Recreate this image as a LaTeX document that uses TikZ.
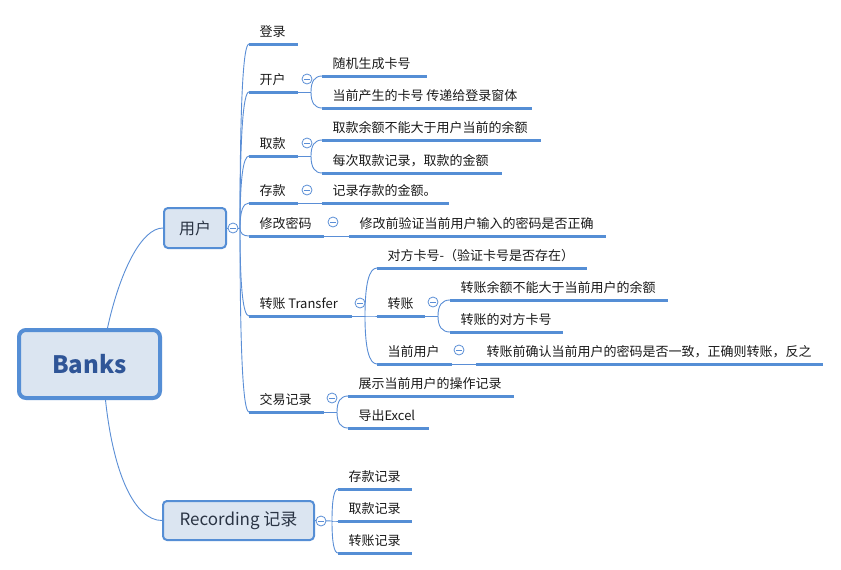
\documentclass[tikz,border=0pt]{standalone}
\usepackage{fontspec}
\setmainfont{Noto Sans CJK SC}
\usetikzlibrary{calc,backgrounds}
\definecolor{lineblue}{HTML}{5A8ED6}
\definecolor{ulblue}{HTML}{558ED5}
\definecolor{boxfill}{HTML}{DBE5F1}
\definecolor{banktext}{HTML}{2F5597}
\definecolor{toptext}{HTML}{2A3444}
\definecolor{leaftext}{HTML}{1A1A1A}
\newcommand\leafbox[2]{\makebox[#1pt][l]{\hspace{10.5pt}#2}}
\begin{document}
\begin{tikzpicture}[x=1pt,y=-1pt,
  conn/.style={draw=lineblue, line width=0.9pt},
  uline/.style={draw=ulblue, line width=3pt},
  leaf/.style={anchor=south west, inner sep=0pt, outer sep=0pt, text height=11pt, text depth=8pt, font=\fontsize{13}{15}\selectfont, text=leaftext},
  collapse/.style={circle, draw=lineblue, line width=0.8pt, fill=white, minimum size=10pt, inner sep=0pt,
    path picture={\draw[lineblue, line width=0.8pt] ([xshift=-2.6pt]path picture bounding box.center) -- ([xshift=2.6pt]path picture bounding box.center);}},
  topic/.style={rectangle, rounded corners=4pt, draw=ulblue, line width=2pt, fill=boxfill, inner sep=0pt, font=\fontsize{16}{18}\selectfont, text=toptext},
  bank/.style={rectangle, rounded corners=7pt, draw=ulblue, line width=4pt, fill=boxfill, inner sep=0pt, minimum width=141pt, minimum height=68pt, font=\bfseries\fontsize{24}{28}\selectfont, text=banktext},
  qbranch/.style={to path={.. controls ($(\tikztostart)!2/3!(\tikztostart|-\tikztotarget)$) and ($(\tikztotarget)!2/3!(\tikztostart|-\tikztotarget)$) .. (\tikztotarget)}}
]
\useasboundingbox (0,0) rectangle (841,570);

% root and main topics
\node[bank] (banks) at (89.5,364) {Banks};
\node[topic, minimum width=62pt, minimum height=40pt] (user) at (195,228) {用户};
\node[topic, minimum width=151pt, minimum height=39pt, font=\fontsize{17}{19}\selectfont] (rec) at (238.5,520.5) {Recording 记录};

% children of 用户
\node[leaf] (dl) at (249,44) {\leafbox{49}{登录}};
\node[leaf] (kh) at (249,92) {\leafbox{49}{开户}};
\node[leaf] (qk) at (249,156) {\leafbox{49}{取款}};
\node[leaf] (ck) at (249,203) {\leafbox{49}{存款}};
\node[leaf] (xg) at (249,236) {\leafbox{75}{修改密码}};
\node[leaf] (zz) at (249,316) {\leafbox{103}{转账 Transfer}};
\node[leaf] (jy) at (249,412) {\leafbox{75}{交易记录}};

% leaves
\node[leaf] (kh1) at (322,76) {\leafbox{105}{随机生成卡号}};
\node[leaf] (kh2) at (322,108) {\leafbox{210}{当前产生的卡号 传递给登录窗体}};
\node[leaf] (qk1) at (322,140) {\leafbox{219}{取款余额不能大于用户当前的余额}};
\node[leaf] (qk2) at (322,173) {\leafbox{180}{每次取款记录，取款的金额}};
\node[leaf] (ck1) at (322,203) {\leafbox{127}{记录存款的金额。}};
\node[leaf] (xg1) at (349,236) {\leafbox{257}{修改前验证当前用户输入的密码是否正确}};
\node[leaf] (zz1) at (377,268) {\leafbox{210}{对方卡号-（验证卡号是否存在）}};
\node[leaf] (zz2) at (377,316) {\leafbox{48}{转账}};
\node[leaf] (zz3) at (377,364) {\leafbox{75}{当前用户}};
\node[leaf] (zz21) at (450,300) {\leafbox{218}{转账余额不能大于当前用户的余额}};
\node[leaf] (zz22) at (450,332) {\leafbox{113}{转账的对方卡号}};
\node[leaf] (zz31) at (476,364) {\leafbox{347}{转账前确认当前用户的密码是否一致，正确则转账，反之}};
\node[leaf] (jy1) at (348,396) {\leafbox{166}{展示当前用户的操作记录}};
\node[leaf] (jy2) at (348,428) {\leafbox{81}{导出Excel}};
\node[leaf] (r1) at (338,489) {\leafbox{74}{存款记录}};
\node[leaf] (r2) at (338,521) {\leafbox{74}{取款记录}};
\node[leaf] (r3) at (338,553) {\leafbox{74}{转账记录}};

% junction points
\coordinate (ju) at (240,228);
\coordinate (jkh) at (311,92);
\coordinate (jqk) at (311,156);
\coordinate (jzz) at (365,316);
\coordinate (jzz2) at (438,316);
\coordinate (jjy) at (337,412);
\coordinate (jrec) at (332,521);

\begin{scope}[on background layer]
  \fill[white] (0,0) rectangle (841,570);
  % root connectors
  \draw[conn] ([xshift=18pt]banks.north) .. controls +(12,-55) and +(-22,0) .. (user.west);
  \draw[conn] ([xshift=16pt]banks.south) .. controls +(8,75) and +(-27,0) .. (rec.west);
  % 用户 branches
  \draw[conn] (user.east) -- (ju);
  \foreach \c in {dl,kh,qk,ck,xg,zz,jy} \draw[conn] (ju) to[qbranch] (\c.south west);
  % sub branches
  \draw[conn] (kh.south east) -- (jkh);
  \foreach \c in {kh1,kh2} \draw[conn] (jkh) to[qbranch] (\c.south west);
  \draw[conn] (qk.south east) -- (jqk);
  \foreach \c in {qk1,qk2} \draw[conn] (jqk) to[qbranch] (\c.south west);
  \draw[conn] (ck.south east) -- (ck1.south west);
  \draw[conn] (xg.south east) -- (xg1.south west);
  \draw[conn] (zz.south east) -- (jzz);
  \foreach \c in {zz1,zz2,zz3} \draw[conn] (jzz) to[qbranch] (\c.south west);
  \draw[conn] (zz2.south east) -- (jzz2);
  \foreach \c in {zz21,zz22} \draw[conn] (jzz2) to[qbranch] (\c.south west);
  \draw[conn] (zz3.south east) -- (zz31.south west);
  \draw[conn] (jy.south east) -- (jjy);
  \foreach \c in {jy1,jy2} \draw[conn] (jjy) to[qbranch] (\c.south west);
  \draw[conn] (rec.east) -- (jrec);
  \foreach \c in {r1,r2,r3} \draw[conn] (jrec) to[qbranch] (\c.south west);
\end{scope}

% underlines
\foreach \n in {dl,kh,qk,ck,xg,zz,jy,kh1,kh2,qk1,qk2,ck1,xg1,zz1,zz2,zz3,zz21,zz22,zz31,jy1,jy2,r1,r2,r3}
  \draw[uline] (\n.south west) -- (\n.south east);

% collapse markers
\node[collapse] (cu) at (233,228) {};
\node[collapse] (ckh) at (307,79) {};
\node[collapse] (cqk) at (307,143) {};
\node[collapse] (cck) at (307,190) {};
\node[collapse] (cxg) at (333,222) {};
\node[collapse] (czz) at (360,303) {};
\node[collapse] (czz2) at (433,302) {};
\node[collapse] (czz3) at (459,350) {};
\node[collapse] (cjy) at (332,398) {};
\node[collapse] (crec) at (321,521) {};
\end{tikzpicture}
\end{document}
